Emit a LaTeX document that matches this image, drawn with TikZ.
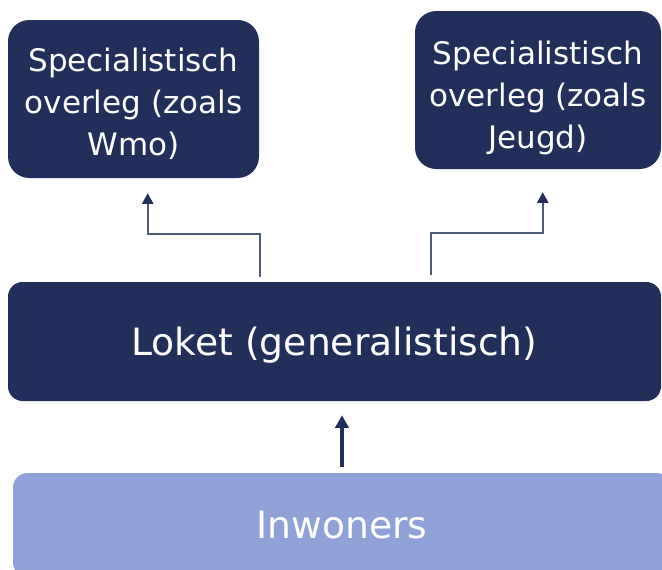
\documentclass[tikz,border=0pt]{standalone}
\usepackage{fontspec}
\setmainfont{DejaVu Sans}
\usepackage{tikz}
\usetikzlibrary{calc,arrows.meta}
\definecolor{navy}{RGB}{34,47,91}
\definecolor{lavendel}{RGB}{143,161,214}
\definecolor{lijn}{RGB}{78,90,126}

\begin{document}
\begin{tikzpicture}[x = 0.75pt, y = -0.75pt,
  blok/.style = {fill = navy, text = white, rounded corners = 11pt, inner sep = 0pt, align = center},
  klein/.style = {font = \fontsize{23.25pt}{31.5pt}\selectfont, text depth = 0pt, rounded corners = 16pt},
  groot/.style = {font = \fontsize{28.25pt}{33pt}\selectfont, text height = 20.6pt, text depth = 0pt},
  tak/.style = {lijn, line width = 1.3pt, -{Triangle[length = 8pt, width = 8.5pt, color = navy]}},
  hoofdpijl/.style = {navy, line width = 2.6pt, -{Triangle[length = 9.5pt, width = 10pt]}}]
\useasboundingbox (0,0) rectangle (662,569);
\clip (0,0) rectangle (662,569);
\node[blok, klein, text height = 85pt, minimum width = 188.25pt, minimum height = 118.5pt] (wmo) at (133.5,99) {Specialistisch\\overleg (zoals\\Wmo)};
\node[blok, klein, text height = 87pt, minimum width = 184.5pt, minimum height = 118.5pt] (jeugd) at (538,90) {Specialistisch\\overleg (zoals\\Jeugd)};
\node[blok, groot, minimum width = 489.75pt, minimum height = 89.25pt] (loket) at (334.5,341.5) {Loket (generalistisch)};
\node[blok, groot, fill = lavendel, minimum width = 493.5pt, minimum height = 78pt] (inwoners) at (342,525) {Inwoners};
\draw[tak] ($(loket.north west)+(252,-5)$) |- ($(wmo.south west)+(140,56)$) -- ($(wmo.south west)+(140,15)$);
\draw[tak] ($(loket.north west)+(423,-7)$) |- ($(jeugd.south west)+(128,64)$) -- ($(jeugd.south west)+(128,23)$);
\draw[hoofdpijl, shorten < = 4.5pt, shorten > = 10.5pt] (inwoners.north) -- (inwoners.north |- loket.south);
\end{tikzpicture}
\end{document}
